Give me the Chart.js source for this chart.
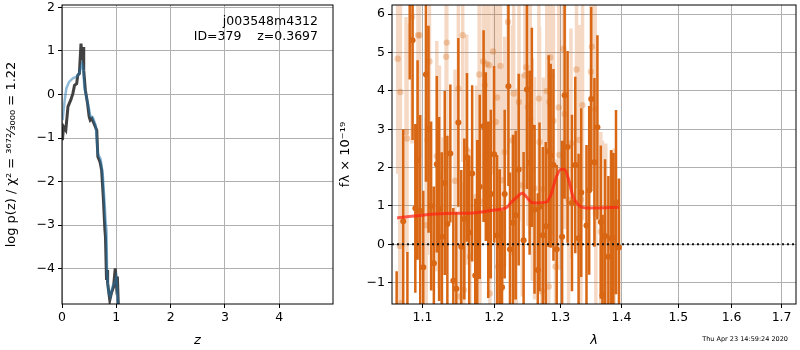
<!DOCTYPE html>
<html>
<head>
<meta charset="utf-8">
<script src="https://cdn.jsdelivr.net/npm/chart.js@4"></script>
<style>
  html, body { margin: 0; padding: 0; background: #fff; }
  #wrap { position: relative; width: 800px; height: 350px; }
  #pz { position: absolute; left: 0; top: 0; }
  #spec { position: absolute; left: 334px; top: 0; }
</style>
</head>
<body>
<div id="wrap">
  <canvas id="pz" width="340" height="350"></canvas>
  <canvas id="spec" width="466" height="350"></canvas>
</div>
<script>
// left panel: log p(z)
const zDark = [0.007, 0.03, 0.07, 0.11, 0.16, 0.20, 0.23, 0.27, 0.29, 0.32, 0.35, 0.37, 0.39, 0.40, 0.43, 0.47, 0.50, 0.52, 0.55, 0.59, 0.64, 0.66, 0.70, 0.73, 0.76, 0.79, 0.80, 0.82, 0.83, 0.84, 0.88, 0.91, 0.95, 0.98, 1.00, 1.02, 1.04];
const logpDark = [-1.05, -0.74, -0.82, -0.28, -0.13, 0.02, 0.21, 0.25, 0.44, 0.48, 1.17, 0.79, 1.09, 0.56, 0.10, -0.20, -0.51, -0.59, -0.55, -0.67, -0.82, -1.43, -1.55, -1.74, -2.35, -3.11, -3.26, -4.26, -4.03, -4.33, -4.72, -4.56, -4.41, -3.99, -4.33, -4.18, -4.95];
const zBlue = [0.01, 0.05, 0.08, 0.13, 0.20, 0.28, 0.32, 0.37, 0.39, 0.41, 0.47, 0.50, 0.52, 0.57, 0.62, 0.66, 0.71, 0.75, 0.79, 0.80, 0.82, 0.83, 0.86, 0.89, 0.93, 0.97, 1.00, 1.04];
const logpBlue = [-0.59, -0.13, 0.14, 0.29, 0.37, 0.42, 0.50, 0.71, 0.63, 0.18, -0.18, -0.34, -0.49, -0.53, -0.71, -1.36, -1.48, -1.82, -2.60, -2.88, -3.11, -4.10, -4.56, -4.64, -4.41, -4.33, -4.20, -4.95];
const zTicks = [0, 1, 2, 3, 4];
const logpTicks = [-4, -3, -2, -1, 0, 1, 2];

// right panel: spectrum
const darkLam = [1.0660, 1.0745, 1.0800, 1.0830, 1.0868, 1.0904, 1.0934, 1.0969, 1.1010, 1.1045, 1.1080, 1.1115, 1.1152, 1.1192, 1.1223, 1.1260, 1.1300, 1.1336, 1.1377, 1.1418, 1.1460, 1.1488, 1.1529, 1.1571, 1.1609, 1.1640, 1.1682, 1.1726, 1.1754, 1.1790, 1.1845, 1.1877, 1.1912, 1.1949, 1.1997, 1.2040, 1.2079, 1.2113, 1.2152, 1.2207, 1.2230, 1.2275, 1.2315, 1.2360, 1.2434, 1.2484, 1.2525, 1.2559, 1.2600, 1.2650, 1.2676, 1.2727, 1.2772, 1.2818, 1.2849, 1.2892, 1.2943, 1.3028, 1.3068, 1.3115, 1.3185, 1.3238, 1.3291, 1.3334, 1.3419, 1.3463, 1.3496, 1.3549, 1.3598, 1.3654, 1.3681, 1.3725, 1.3780, 1.3829, 1.3863, 1.3908, 1.3958];
const darkFlux = [-2.5, 0.6, -2.0, 6.8, 5.32, 0.94, 2.20, 0.87, -0.6, 4.43, 3.00, 1.0, -0.49, 2.09, 0.92, 0.2, 1.6, 0.53, 2.37, -0.95, -1.16, 3.18, -0.06, 0.66, 2.27, 0.31, 1.85, -0.81, 0.42, 1.5, 3.08, 2.29, 0.9, 1.31, 2.35, 0.23, -0.04, -1.12, 1.31, 4.12, -0.13, 0.56, 0.76, 1.95, 0.11, 4.04, 2.13, 3.05, 0.91, -0.67, 0.98, 0.24, 0.47, 2.43, 2.31, 2.07, -0.13, 0.20, 3.89, 2.54, 1.08, 2.07, 0.16, 1.35, 0.49, 1.41, 3.79, 2.14, 3.05, 0.58, -1.33, 0.22, -0.32, 0.16, 0.18, 1.10, -0.08];
const darkErr = [1.8, 2.4, 1.8, 2.5, 2.6, 2.2, 2.6, 2.5, 2.0, 2.8, 2.7, 2.2, 2.0, 2.3, 2.4, 2.2, 2.4, 2.3, 1.8, 1.9, 2.0, 2.2, 2.0, 2.1, 2.2, 2.0, 2.3, 2.0, 2.3, 2.4, 2.5, 2.2, 2.3, 2.2, 2.3, 2.1, 2.0, 2.0, 2.2, 2.6, 2.0, 2.3, 2.2, 2.5, 2.3, 2.6, 2.4, 2.6, 2.2, 2.0, 2.2, 2.3, 2.2, 2.5, 2.4, 2.5, 2.2, 2.5, 2.7, 2.5, 2.3, 2.3, 2.2, 2.2, 2.1, 2.2, 2.4, 2.2, 2.4, 2.0, 2.1, 2.0, 2.1, 2.3, 2.2, 2.4, 1.8];
const lightLam = [1.0674, 1.0700, 1.0708, 1.0721, 1.0782, 1.0795, 1.0860, 1.0939, 1.0960, 1.1049, 1.1066, 1.1093, 1.1192, 1.1227, 1.1260, 1.1319, 1.1328, 1.1442, 1.1488, 1.1511, 1.1549, 1.1566, 1.1604, 1.1651, 1.1745, 1.1782, 1.1792, 1.1839, 1.1863, 1.1888, 1.1925, 1.1935, 1.1982, 1.2021, 1.2040, 1.2055, 1.2090, 1.2094, 1.2119, 1.2152, 1.2201, 1.2266, 1.2285, 1.2325, 1.2364, 1.2415, 1.2453, 1.2475, 1.2498, 1.2535, 1.2565, 1.2600, 1.2666, 1.2676, 1.2711, 1.2737, 1.2788, 1.2818, 1.2830, 1.2840, 1.2856, 1.2892, 1.2923, 1.2975, 1.2985, 1.3047, 1.3068, 1.3131, 1.3169, 1.3258, 1.3302, 1.3328, 1.3355, 1.3491, 1.3507, 1.3561, 1.3572, 1.3654, 1.3681, 1.3737, 1.3820, 1.3876];
const lightFlux = [4.84, -0.04, 3.97, -1.53, 2.93, 2.76, 5.93, 5.45, 5.45, 0.50, 2.72, 4.77, 2.30, 1.76, -0.01, 4.89, 5.26, 1.66, 4.06, -1.36, 5.45, -1.19, 2.47, -0.32, 1.24, 4.43, 1.12, 4.77, 4.15, 4.70, 4.67, -1.28, 5.03, 3.19, 3.83, -0.58, 4.65, -0.54, 1.67, 2.41, 5.80, 2.71, 3.93, 1.16, 3.71, 1.54, 4.41, 4.62, 3.58, 3.27, 1.95, 1.46, 3.80, 2.67, -1.23, 1.45, 4.00, -1.10, 3.71, 4.87, 4.40, 3.22, -0.58, 3.57, 2.33, 5.10, 3.40, 1.16, 2.63, 4.56, 2.72, 1.17, 3.63, 4.50, 5.15, 3.52, 0.81, 0.33, 0.10, 0.13, -0.06, 0.00];
const lightErr = [3.0, 2.8, 3.2, 2.6, 3.0, 3.0, 3.3, 3.2, 3.2, 2.8, 3.0, 3.1, 3.0, 2.9, 2.8, 3.2, 3.2, 2.9, 3.1, 2.7, 3.3, 2.8, 3.0, 2.8, 2.9, 3.1, 2.9, 3.2, 3.1, 3.2, 3.1, 2.8, 3.2, 3.0, 3.1, 2.8, 3.1, 2.8, 2.9, 3.0, 3.3, 3.0, 3.1, 2.9, 3.1, 2.9, 3.2, 3.2, 3.1, 3.0, 2.9, 2.9, 3.1, 3.0, 2.7, 2.9, 3.1, 2.7, 3.1, 3.2, 3.1, 3.0, 2.8, 3.1, 3.0, 3.2, 3.0, 2.9, 3.0, 3.1, 3.0, 2.9, 3.0, 3.0, 3.1, 2.9, 2.7, 2.6, 2.6, 2.5, 2.5, 2.5];
const modelLam = [1.0666, 1.1237, 1.1697, 1.1982, 1.2178, 1.2251, 1.2325, 1.2415, 1.2475, 1.2550, 1.2626, 1.2779, 1.2856, 1.2933, 1.3012, 1.3064, 1.3143, 1.3195, 1.3275, 1.3410, 1.3556, 1.3958];
const modelFlux = [0.69, 0.80, 0.82, 0.89, 0.96, 1.10, 1.22, 1.33, 1.24, 1.10, 1.08, 1.10, 1.31, 1.74, 1.96, 1.96, 1.62, 1.28, 1.05, 0.95, 0.95, 0.97];
const lamTicks = [1.1, 1.2, 1.3, 1.4, 1.5, 1.6, 1.7];
const fluxTicks = [-1, 0, 1, 2, 3, 4, 5, 6];

Chart.defaults.font.family = 'DejaVu Sans';
Chart.defaults.font.size = 12.5;
Chart.defaults.color = '#000';

const GRID = '#b0b0b0';
const ORANGE = 'rgb(216,102,18)';

function pts(xs, ys) {
  return xs.map((x, i) => ({ x: x, y: ys[i] }));
}
function errSegments(xs, ys, es) {
  const out = [];
  xs.forEach((x, i) => {
    out.push({ x: x, y: ys[i] - es[i] }, { x: x, y: ys[i] + es[i] }, { x: x, y: null });
  });
  return out;
}
function fixedTicks(list) {
  return function (scale) { scale.ticks = list.map(v => ({ value: v })); };
}
function minus(v) { return String(v).replace('-', '\u2212'); }
// fixed axis box, no extra room for overhanging labels
function sizeX(h) {
  return function (s) { s.height = h; s.paddingLeft = 0; s.paddingRight = 0; };
}
function sizeY(w) {
  return function (s) { s.width = w; s.paddingTop = 0; s.paddingBottom = 0; };
}

// black box around the plot
const frame = {
  id: 'frame',
  afterDraw(chart) {
    const a = chart.chartArea, c = chart.ctx;
    c.save();
    c.strokeStyle = '#000';
    c.lineWidth = 1;
    c.strokeRect(a.left, a.top, a.right - a.left, a.bottom - a.top);
    c.restore();
  }
};

const pzNotes = {
  id: 'pzNotes',
  afterDraw(chart) {
    const a = chart.chartArea, c = chart.ctx;
    c.save();
    c.font = '12.5px "DejaVu Sans"';
    c.fillStyle = '#000';
    c.textAlign = 'right';
    c.textBaseline = 'middle';
    c.fillText('j003548m4312', a.right - 15, a.top + 17);
    c.fillText('ID=379    z=0.3697', a.right - 15, a.top + 32);
    c.restore();
  }
};

const stamp = {
  id: 'stamp',
  afterDraw(chart) {
    const c = chart.ctx;
    c.save();
    c.font = '6.5px "DejaVu Sans"';
    c.fillStyle = '#000';
    c.textAlign = 'right';
    c.textBaseline = 'middle';
    c.fillText('Thu Apr 23 14:59:24 2020', 454, 339);
    c.restore();
  }
};

// creazione chart sinistro
new Chart(document.getElementById('pz'), {
  type: 'line',
  data: {
    datasets: [
      { data: pts(zBlue, logpBlue), borderColor: 'rgba(31,119,180,0.5)', borderWidth: 2.5, pointRadius: 0, tension: 0 },
      { data: pts(zDark, logpDark), borderColor: 'rgba(45,45,45,0.9)', borderWidth: 3, pointRadius: 0, tension: 0 }
    ]
  },
  options: {
    responsive: false,
    animation: false,
    layout: { padding: { top: 5, right: 7, left: 0, bottom: 0 } },
    plugins: { legend: { display: false }, tooltip: { enabled: false } },
    scales: {
      x: {
        type: 'linear', min: 0, max: 4.99,
        afterBuildTicks: fixedTicks(zTicks),
        afterFit: sizeX(46),
        grid: { color: GRID, tickColor: '#000', tickLength: 4 },
        border: { display: false },
        ticks: { padding: 2, maxRotation: 0, autoSkip: false },
        title: { display: true, text: 'z', font: { size: 13, style: 'italic' }, padding: { top: 2, bottom: 2 } }
      },
      y: {
        type: 'linear', min: -4.81, max: 2.055,
        afterBuildTicks: fixedTicks(logpTicks),
        afterFit: sizeY(62),
        grid: { color: GRID, tickColor: '#000', tickLength: 4 },
        border: { display: false },
        ticks: { padding: 3, callback: v => minus(v) },
        title: { display: true, text: 'log p(z) / \u03c7\u00b2 = \u00b3\u2076\u2077\u00b2\u2044\u2083\u2080\u2080\u2080 = 1.22', font: { size: 13 }, padding: { top: 4, bottom: 2 } }
      }
    }
  },
  plugins: [frame, pzNotes]
});

// creazione chart destro
new Chart(document.getElementById('spec'), {
  type: 'scatter',
  data: {
    datasets: [
      { data: pts(modelLam, modelFlux), showLine: true, borderColor: 'rgba(255,35,20,0.72)', borderWidth: 3, pointRadius: 0, cubicInterpolationMode: 'monotone' },
      { data: pts([1.06, 1.73], [0, 0]), showLine: true, borderColor: '#111', borderWidth: 2, borderDash: [2, 3], pointRadius: 0 },
      { data: pts(darkLam, darkFlux), backgroundColor: ORANGE, borderWidth: 0, pointRadius: 3 },
      { data: errSegments(darkLam, darkFlux, darkErr), showLine: true, spanGaps: false, borderColor: ORANGE, borderWidth: 2.5, pointRadius: 0 },
      { data: pts(lightLam, lightFlux), backgroundColor: 'rgba(216,102,18,0.3)', borderWidth: 0, pointRadius: 3.2 },
      { data: errSegments(lightLam, lightFlux, lightErr), showLine: true, spanGaps: false, borderColor: 'rgba(216,102,18,0.25)', borderWidth: 3.5, pointRadius: 0 }
    ]
  },
  options: {
    responsive: false,
    animation: false,
    layout: { padding: { top: 5, right: 1, left: 0, bottom: 0 } },
    plugins: { legend: { display: false }, tooltip: { enabled: false } },
    scales: {
      x: {
        type: 'logarithmic', min: 1.06, max: 1.73,
        afterBuildTicks: fixedTicks(lamTicks),
        afterFit: sizeX(46),
        grid: { color: GRID, tickColor: '#000', tickLength: 4 },
        border: { display: false },
        ticks: { padding: 2, maxRotation: 0, autoSkip: false, callback: v => Number(v).toFixed(1) },
        title: { display: true, text: '\u03bb', font: { size: 13, style: 'italic' }, padding: { top: 2, bottom: 2 } }
      },
      y: {
        type: 'linear', min: -1.555, max: 6.24,
        afterBuildTicks: fixedTicks(fluxTicks),
        afterFit: sizeY(58),
        grid: { color: GRID, tickColor: '#000', tickLength: 4 },
        border: { display: false },
        ticks: { padding: 3, callback: v => minus(v) },
        title: { display: true, text: 'f\u03bb \u00d7 10\u207b\u00b9\u2079', font: { size: 13 }, padding: { top: 4, bottom: 2 } }
      }
    }
  },
  plugins: [frame, stamp]
});
</script>
</body>
</html>
